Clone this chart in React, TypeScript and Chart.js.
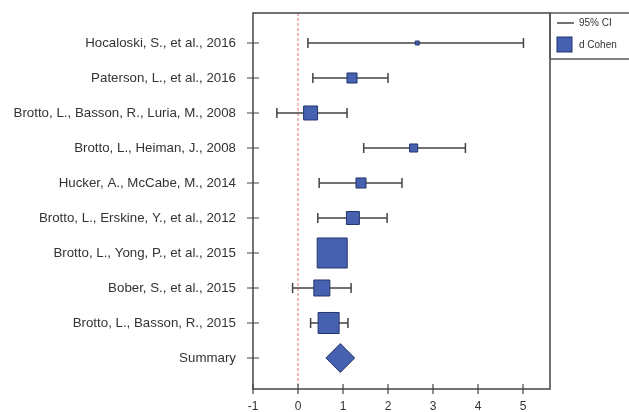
import React, { useEffect, useRef } from 'react';
import { Chart, registerables } from 'chart.js';

Chart.register(...registerables);

// ---- data ----
const studies = [
  'Hocaloski, S., et al., 2016',
  'Paterson, L., et al., 2016',
  'Brotto, L., Basson, R., Luria, M., 2008',
  'Brotto, L., Heiman, J., 2008',
  'Hucker, A., McCabe, M., 2014',
  'Brotto, L., Erskine, Y., et al., 2012',
  'Brotto, L., Yong, P., et al., 2015',
  'Bober, S., et al., 2015',
  'Brotto, L., Basson, R., 2015',
];
const summaryLabel = 'Summary';
const effect = [2.65, 1.2, 0.28, 2.57, 1.4, 1.22, 0.76, 0.53, 0.68];
const ciLow = [0.22, 0.33, -0.47, 1.46, 0.47, 0.44, 0.5, -0.12, 0.28];
const ciHigh = [5.01, 2.0, 1.09, 3.72, 2.31, 1.98, 1.02, 1.18, 1.11];
const weights = [0.7, 4.5, 8.7, 2.9, 4.5, 7.5, 40.1, 11.4, 19.7];
const summaryEffect = 0.94;
const summaryLow = 0.62;
const summaryHigh = 1.26;
const nullEffect = 0;
const xTicks = [-1, 0, 1, 2, 3, 4, 5];
const legendLabels = ['95% CI', 'd Cohen'];

const rowLabels = [...studies, summaryLabel];
const Y_MIN = -0.857;
const Y_MAX = 9.886;
const FONT = "'Liberation Sans', Arial, sans-serif";
const BLUE = '#4561b0';
const NAVY = '#23346c';
const GREY = '#444444';

const ciData: any[] = [];
studies.forEach((_, i) => {
  ciData.push({ x: ciLow[i], y: i }, { x: ciHigh[i], y: i }, { x: null, y: null });
});

const framePlugin = {
  id: 'frameAndLegend',
  afterDatasetsDraw(chart: any) {
    const { ctx, chartArea: a, scales } = chart;
    ctx.save();
    ctx.strokeStyle = GREY;
    ctx.lineWidth = 1.5;
    ctx.strokeRect(a.left, a.top, a.right - a.left, a.bottom - a.top);
    // crossing tick marks
    ctx.lineWidth = 1.2;
    ctx.beginPath();
    scales.x.ticks.forEach((t: any) => {
      const px = scales.x.getPixelForValue(t.value);
      ctx.moveTo(px, a.bottom - 5);
      ctx.lineTo(px, a.bottom + 5);
    });
    scales.y.ticks.forEach((t: any) => {
      const py = scales.y.getPixelForValue(t.value);
      ctx.moveTo(a.left - 6, py);
      ctx.lineTo(a.left + 6, py);
    });
    ctx.stroke();

    // legend box
    const lx = a.right;
    const ly = a.top;
    ctx.lineWidth = 1.5;
    ctx.strokeStyle = '#555';
    ctx.strokeRect(lx, ly, 120, 46);
    ctx.font = `10px ${FONT}`;
    ctx.fillStyle = '#333';
    ctx.textBaseline = 'middle';
    ctx.textAlign = 'left';
    // CI line sample
    ctx.strokeStyle = GREY;
    ctx.lineWidth = 1.5;
    ctx.beginPath();
    ctx.moveTo(lx + 7, ly + 10);
    ctx.lineTo(lx + 24, ly + 10);
    ctx.stroke();
    ctx.fillText(legendLabels[0], lx + 29, ly + 10);
    // square sample
    ctx.fillStyle = BLUE;
    ctx.strokeStyle = NAVY;
    ctx.lineWidth = 1;
    ctx.fillRect(lx + 7, ly + 24, 15, 15);
    ctx.strokeRect(lx + 7, ly + 24, 15, 15);
    ctx.fillStyle = '#333';
    ctx.fillText(legendLabels[1], lx + 29, ly + 32);
    ctx.restore();
  },
};

export default function App() {
  const ref = useRef<HTMLCanvasElement>(null);
  useEffect(() => {
    const chart = new Chart(ref.current as HTMLCanvasElement, {
      type: 'scatter',
      data: {
        datasets: [
          {
            type: 'scatter',
            data: effect.map((x, i) => ({ x, y: i })),
            pointStyle: 'rect',
            pointRadius: weights.map((w) => Math.sqrt(w) * 3.35),
            pointHoverRadius: weights.map((w) => Math.sqrt(w) * 3.35),
            backgroundColor: BLUE,
            borderColor: NAVY,
            borderWidth: 1,
            order: 0,
          } as any,
          {
            type: 'scatter',
            data: [{ x: summaryEffect, y: studies.length }],
            pointStyle: 'rectRot',
            pointRadius: (c: any) => {
              const s = c.chart.scales.x;
              return (s.getPixelForValue(summaryHigh) - s.getPixelForValue(summaryLow)) / 2;
            },
            backgroundColor: BLUE,
            borderColor: NAVY,
            borderWidth: 1,
            order: 1,
          } as any,
          {
            type: 'line',
            data: ciData,
            borderColor: GREY,
            borderWidth: 1.5,
            spanGaps: false,
            pointStyle: 'line',
            pointRotation: 90,
            pointRadius: 5,
            pointBorderColor: GREY,
            pointBorderWidth: 1.5,
            order: 2,
          } as any,
          {
            type: 'line',
            data: [
              { x: nullEffect, y: Y_MIN },
              { x: nullEffect, y: Y_MAX },
            ],
            borderColor: '#e77272',
            borderWidth: 1,
            borderDash: [3, 2],
            pointRadius: 0,
            order: 3,
          } as any,
        ],
      },
      options: {
        animation: false,
        responsive: false,
        devicePixelRatio: 1,
        layout: { autoPadding: false, padding: { top: 13, right: 79, bottom: 0, left: 0 } },
        plugins: { legend: { display: false }, tooltip: { enabled: false } },
        scales: {
          x: {
            type: 'linear',
            min: -1,
            max: 5.6,
            afterBuildTicks: (s: any) => {
              s.ticks = xTicks.map((v) => ({ value: v }));
            },
            afterFit: (s: any) => {
              s.height = 23;
              s.paddingLeft = 0;
              s.paddingRight = 0;
            },
            grid: { display: false, drawTicks: false },
            border: { display: false },
            ticks: {
              padding: 10,
              color: '#333',
              font: { family: FONT, size: 12 },
              callback: (v: any) => String(v),
            },
          },
          y: {
            type: 'linear',
            min: Y_MIN,
            max: Y_MAX,
            reverse: true,
            afterBuildTicks: (s: any) => {
              s.ticks = rowLabels.map((_, i) => ({ value: i }));
            },
            afterFit: (s: any) => {
              s.width = 253;
              s.paddingTop = 0;
              s.paddingBottom = 0;
            },
            grid: { display: false, drawTicks: false },
            border: { display: false },
            ticks: {
              padding: 17,
              autoSkip: false,
              color: '#333',
              font: { family: FONT, size: 13.3 },
              callback: (v: any) => rowLabels[v as number],
            },
          },
        },
      } as any,
      plugins: [framePlugin],
    });
    return () => chart.destroy();
  }, []);
  return (
    <div
      style={{
        position: 'fixed',
        left: 0,
        top: 0,
        width: 629,
        height: 412,
        overflow: 'hidden',
        background: '#fff',
      }}
    >
      <canvas ref={ref} width={629} height={412} style={{ display: 'block', width: 629, height: 412 }} />
    </div>
  );
}
